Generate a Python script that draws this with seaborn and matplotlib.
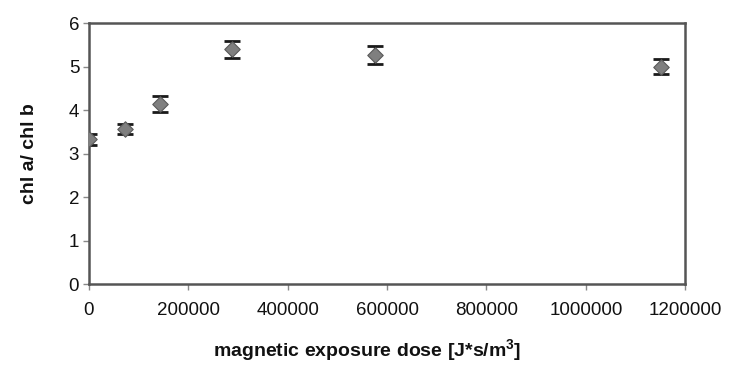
import matplotlib
matplotlib.use("Agg")
import matplotlib.pyplot as plt
import seaborn as sns
import pandas as pd

dose = [0, 72000, 144000, 288000, 576000, 1152000]
ratio = [3.33, 3.56, 4.14, 5.40, 5.26, 5.00]
err = [0.13, 0.12, 0.18, 0.20, 0.21, 0.17]
xticks = [0, 200000, 400000, 600000, 800000, 1000000, 1200000]
yticks = [0, 1, 2, 3, 4, 5, 6]

sns.set_style("white")
plt.rcParams['font.family'] = ['Liberation Sans', 'DejaVu Sans']

df = pd.DataFrame({"dose": dose, "ratio": ratio, "err": err})

fig = plt.figure(figsize=(7.29, 3.67), dpi=100)
ax = fig.add_axes([0.122, 0.226, 0.818, 0.711])

ax.errorbar(df["dose"], df["ratio"], yerr=df["err"], fmt="none",
            ecolor="#1a1a1a", elinewidth=1.6, capsize=6, capthick=2.0, zorder=2)
sns.scatterplot(data=df, x="dose", y="ratio", marker="D", s=62,
                color="#7f7f7f", edgecolor="#5a5a5a", linewidth=0.8, ax=ax, zorder=3)

ax.set_xlim(0, 1200000)
ax.set_ylim(0, 6)
ax.set_xticks(xticks)
ax.set_xticklabels([str(t) for t in xticks])
ax.set_yticks(yticks)
ax.set_yticklabels([str(t) for t in yticks])

for s in ax.spines.values():
    s.set_visible(True)
    s.set_color("#555555")
    s.set_linewidth(1.8)

ax.tick_params(axis="both", which="major", direction="out", length=4, width=1,
               color="#888888", labelsize=13.5, labelcolor="#111111")
ax.tick_params(axis="x", pad=9)
ax.tick_params(axis="y", pad=3)
ax.tick_params(bottom=True, left=True)

ax.set_xlabel("magnetic exposure dose [J*s/m$^{\\mathregular{3}}$]",
              fontsize=14, fontweight="bold", color="#111111")
ax.xaxis.set_label_coords(0.467, -0.205)
ax.set_ylabel("chl a/ chl b", fontsize=14, fontweight="bold", labelpad=22,
              color="#111111")

fig.savefig("out.png", dpi=100)
